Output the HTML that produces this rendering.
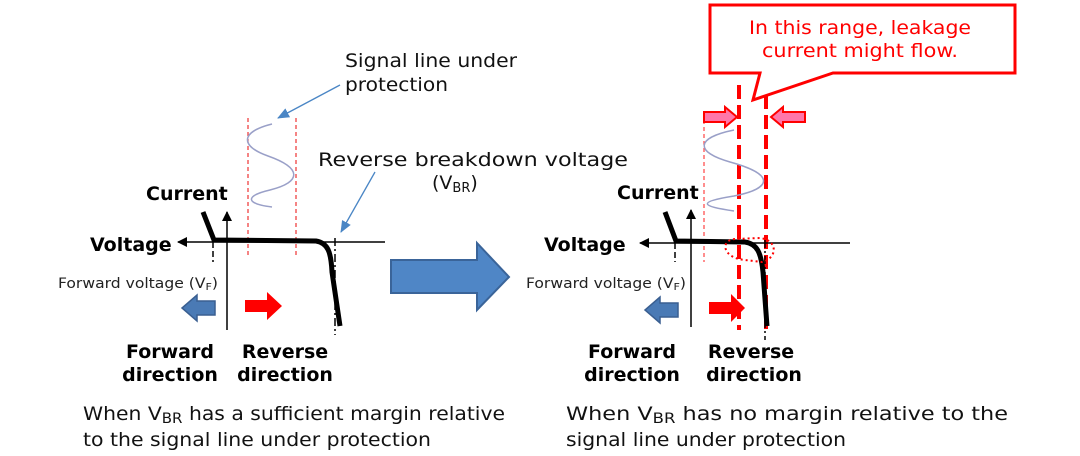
<!DOCTYPE html>
<html><head><meta charset="utf-8"><style>
html,body{margin:0;padding:0;background:#fff}
svg{display:block}
text{font-family:"DejaVu Sans","Liberation Sans",sans-serif}
.b{font-weight:bold;font-size:19px;fill:#000}
.n{font-size:19px;fill:#111}
.s{font-size:14px;fill:#222}
</style></head><body>
<svg width="1080" height="456" viewBox="0 0 1080 456" xmlns="http://www.w3.org/2000/svg">
<defs>
<marker id="ah" markerWidth="10" markerHeight="10" refX="9" refY="5" orient="auto" markerUnits="userSpaceOnUse"><path d="M0,0 L10,5 L0,10 z" fill="#000"/></marker>
<marker id="bh" markerWidth="12" markerHeight="12" refX="11" refY="6" orient="auto" markerUnits="userSpaceOnUse"><path d="M0,1 L12,6 L0,11 z" fill="#4a86c5"/></marker>
</defs>
<!-- LEFT -->
<text x="345" y="67" class="n" textLength="172" lengthAdjust="spacingAndGlyphs">Signal line under</text>
<text x="345" y="91" class="n" textLength="103" lengthAdjust="spacingAndGlyphs">protection</text>
<line x1="340" y1="85" x2="278" y2="118" stroke="#4a86c5" stroke-width="1.3" marker-end="url(#bh)"/>
<text x="318" y="166" class="n" textLength="310" lengthAdjust="spacingAndGlyphs">Reverse breakdown voltage</text>
<text x="432" y="189" class="n">(V<tspan font-size="13" dy="3">BR</tspan><tspan dy="-3">)</tspan></text>
<line x1="375" y1="172" x2="341" y2="232" stroke="#4a86c5" stroke-width="1.3" marker-end="url(#bh)"/>
<line x1="248" y1="118" x2="248" y2="258" stroke="#e33" stroke-width="1.2" stroke-dasharray="4,3"/>
<line x1="296" y1="118" x2="296" y2="258" stroke="#e33" stroke-width="1.2" stroke-dasharray="4,3"/>
<path d="M272,124 C240,132 240,146 268,156 C302,168 302,182 270,190 C244,196 246,204 272,207" fill="none" stroke="#9aa0c8" stroke-width="1.5"/>
<line x1="227" y1="330" x2="227" y2="212" stroke="#000" stroke-width="1.5" marker-end="url(#ah)"/>
<line x1="385" y1="242" x2="178" y2="242" stroke="#000" stroke-width="1.5" marker-end="url(#ah)"/>
<text x="146" y="200" class="b">Current</text>
<text x="90" y="251" class="b">Voltage</text>
<text x="58" y="288" class="s" textLength="160" lengthAdjust="spacingAndGlyphs">Forward voltage (V<tspan font-size="10" dy="2">F</tspan><tspan dy="-2">)</tspan></text>
<line x1="213" y1="242" x2="213" y2="262" stroke="#000" stroke-width="1.5" stroke-dasharray="6,3"/>
<line x1="335" y1="238" x2="335" y2="335" stroke="#000" stroke-width="1.5" stroke-dasharray="8,3,2,3"/>
<path d="M203,212 L214,240 L316,241 C328,243 331,252 332,272 L340,326" fill="none" stroke="#000" stroke-width="5"/>
<path d="M215,301 L197,301 L197,295 L182,308 L197,321 L197,315 L215,315 z" fill="#4a7ab5" stroke="#3a5f91" stroke-width="1.5"/>
<path d="M245,300 L267,300 L267,292 L282,306 L267,320 L267,312 L245,312 z" fill="#f00"/>
<text x="170" y="358" class="b" text-anchor="middle">Forward</text>
<text x="170" y="381" class="b" text-anchor="middle">direction</text>
<text x="285" y="358" class="b" text-anchor="middle">Reverse</text>
<text x="285" y="381" class="b" text-anchor="middle">direction</text>
<text x="83" y="420" class="n" textLength="422" lengthAdjust="spacingAndGlyphs">When V<tspan font-size="14" dy="3">BR</tspan><tspan dy="-3"> has a sufficient margin relative</tspan></text>
<text x="83" y="446" class="n" textLength="348" lengthAdjust="spacingAndGlyphs">to the signal line under protection</text>
<!-- big arrow -->
<path d="M391,260 L477,260 L477,243 L509,277 L477,310 L477,293 L391,293 z" fill="#4f86c6" stroke="#3a6499" stroke-width="2"/>
<!-- RIGHT -->
<path d="M710,5 L1015,5 L1015,73 L833,73 L753,100 L760,73 L710,73 z" fill="#fff" stroke="#f00" stroke-width="3"/>
<text x="860" y="34" text-anchor="middle" font-size="19" fill="#f00" textLength="222" lengthAdjust="spacingAndGlyphs">In this range, leakage</text>
<text x="860" y="57" text-anchor="middle" font-size="19" fill="#f00" textLength="196" lengthAdjust="spacingAndGlyphs">current might flow.</text>
<line x1="739" y1="85" x2="739" y2="330" stroke="#f00" stroke-width="4" stroke-dasharray="14,6"/>
<line x1="766" y1="95" x2="766" y2="330" stroke="#f00" stroke-width="4" stroke-dasharray="14,6"/>
<line x1="704" y1="120" x2="704" y2="262" stroke="#f44" stroke-width="1.2" stroke-dasharray="4,3"/>
<path d="M704,112 L725,112 L725,107 L737,117 L725,127 L725,122 L704,122 z" fill="#f7a" stroke="#f00" stroke-width="2"/>
<path d="M805,112 L783,112 L783,107 L771,117 L783,127 L783,122 L805,122 z" fill="#f7a" stroke="#f00" stroke-width="2"/>
<path d="M734,130 C695,138 695,152 730,162 C774,174 774,188 734,196 C697,202 700,206 734,211" fill="none" stroke="#9aa0c8" stroke-width="1.5"/>
<line x1="691" y1="327" x2="691" y2="210" stroke="#000" stroke-width="1.5" marker-end="url(#ah)"/>
<line x1="850" y1="243" x2="640" y2="243" stroke="#000" stroke-width="1.5" marker-end="url(#ah)"/>
<text x="617" y="199" class="b">Current</text>
<text x="544" y="251" class="b">Voltage</text>
<text x="526" y="288" class="s" textLength="160" lengthAdjust="spacingAndGlyphs">Forward voltage (V<tspan font-size="10" dy="2">F</tspan><tspan dy="-2">)</tspan></text>
<line x1="675" y1="243" x2="675" y2="262" stroke="#000" stroke-width="1.5" stroke-dasharray="6,3"/>
<line x1="765" y1="240" x2="765" y2="340" stroke="#000" stroke-width="1.5" stroke-dasharray="8,3,2,3"/>
<path d="M665,212 L676,241 L745,242 C757,244 761,252 763,272 L767,326" fill="none" stroke="#000" stroke-width="5"/>
<path d="M735,239 C720,240 722,258 745,260 L762,262 C778,258 778,240 760,238 Z" fill="none" stroke="#f00" stroke-width="2" stroke-dasharray="2,3"/>
<path d="M678,303 L660,303 L660,297 L645,310 L660,323 L660,317 L678,317 z" fill="#4a7ab5" stroke="#3a5f91" stroke-width="1.5"/>
<path d="M709,302 L731,302 L731,294 L745,308 L731,322 L731,314 L709,314 z" fill="#f00"/>
<text x="632" y="358" class="b" text-anchor="middle">Forward</text>
<text x="632" y="381" class="b" text-anchor="middle">direction</text>
<text x="751" y="358" class="b" text-anchor="middle">Reverse</text>
<text x="754" y="381" class="b" text-anchor="middle">direction</text>
<text x="566" y="420" class="n" textLength="442" lengthAdjust="spacingAndGlyphs">When V<tspan font-size="14" dy="3">BR</tspan><tspan dy="-3"> has no margin relative to the</tspan></text>
<text x="566" y="446" class="n" textLength="280" lengthAdjust="spacingAndGlyphs">signal line under protection</text>
</svg>
</body></html>
